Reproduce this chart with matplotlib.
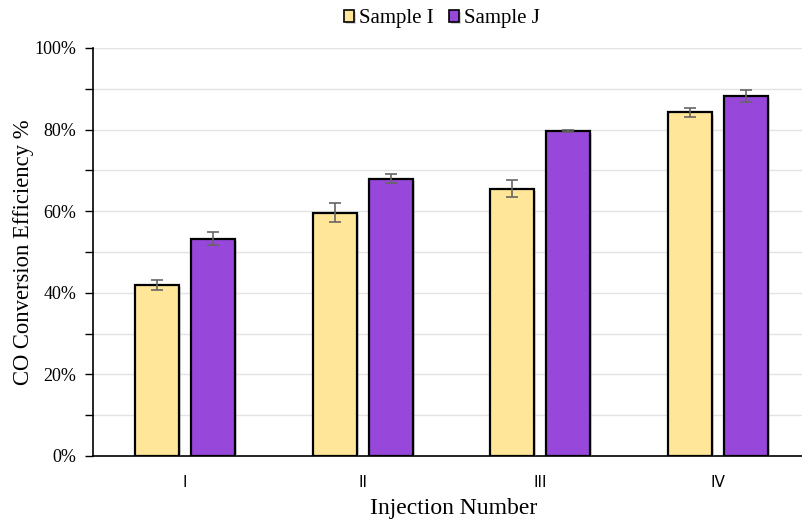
import matplotlib
matplotlib.use("Agg")
import matplotlib.pyplot as plt
import matplotlib.patheffects as pe
from matplotlib.ticker import MultipleLocator, PercentFormatter
import numpy as np

categories = ["I", "II", "III", "IV"]
sample_i = [42.0, 59.6, 65.5, 84.2]
sample_i_err = [1.2, 2.3, 2.1, 1.2]
sample_j = [53.3, 68.0, 79.6, 88.2]
sample_j_err = [1.7, 1.1, 0.2, 1.5]

serif = ["Liberation Serif", "DejaVu Serif"]

fig = plt.figure(figsize=(8.02, 5.24), dpi=100)
ax = fig.add_axes([93 / 802, 1 - 456 / 524, 1 - 93 / 802, 408 / 524])

x = np.arange(len(categories))
w = 0.247
off = 0.157
shadow = [pe.SimplePatchShadow(offset=(1.5, -1.5), shadow_rgbFace="#888888", alpha=0.35), pe.Normal()]

err_kw = dict(ecolor="#666666", elinewidth=1.2, capsize=4, capthick=1.2)
b1 = ax.bar(x - off, sample_i, w, yerr=sample_i_err, color="#FFE699", edgecolor="black",
            linewidth=1.6, label="Sample I", error_kw=err_kw, zorder=3)
b2 = ax.bar(x + off, sample_j, w, yerr=sample_j_err, color="#9747D9", edgecolor="black",
            linewidth=1.6, label="Sample J", error_kw=err_kw, zorder=3)
for p in list(b1) + list(b2):
    p.set_path_effects(shadow)

ax.set_xlim(-0.518, 3.473)
ax.set_ylim(0, 100)
ax.yaxis.set_major_locator(MultipleLocator(20))
ax.yaxis.set_minor_locator(MultipleLocator(10))
ax.yaxis.set_major_formatter(PercentFormatter(decimals=0))
ax.grid(axis="y", which="both", color="#E3E3E3", linewidth=1, zorder=0)
ax.set_axisbelow(True)

for s in ["top", "right"]:
    ax.spines[s].set_visible(False)
ax.spines["left"].set_linewidth(1.2)
ax.spines["bottom"].set_linewidth(1.2)

ax.tick_params(axis="y", which="both", direction="out", length=6, width=1, labelsize=13, pad=6)
ax.tick_params(axis="x", length=0, pad=14, labelsize=11)
ax.set_xticks(x)
ax.set_xticklabels(categories, family=["DejaVu Sans"])
for lab in ax.get_yticklabels():
    lab.set_family(serif)

ax.set_ylabel("CO Conversion Efficiency %", family=serif, fontsize=16.3, labelpad=0)
ax.set_xlabel("Injection Number", family=serif, fontsize=17)
ax.xaxis.set_label_coords(0.508, -0.102)

leg = fig.legend(handles=[b1, b2], loc="upper center", bbox_to_anchor=(0.551, 1.018), ncol=2,
                 frameon=False, prop={"family": serif, "size": 15}, handlelength=0.5,
                 handleheight=0.5, handletextpad=0.25, columnspacing=0.7)
for h in leg.legend_handles:
    h.set_linewidth(1.2)

fig.savefig("out.png", dpi=100)
